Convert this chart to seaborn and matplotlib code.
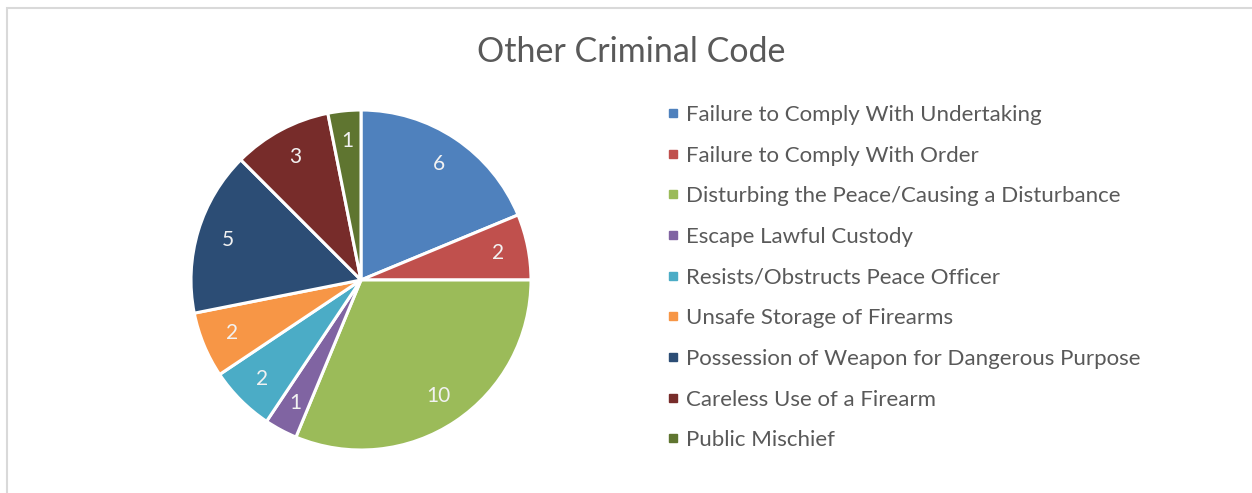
import matplotlib
matplotlib.use("Agg")
import matplotlib.pyplot as plt
from matplotlib.lines import Line2D
from matplotlib.patches import Rectangle
import seaborn as sns

# -----------------------------
# Datos
# -----------------------------
CATEGORIES = [
    "Failure to Comply With Undertaking",
    "Failure to Comply With Order",
    "Disturbing the Peace/Causing a Disturbance",
    "Escape Lawful Custody",
    "Resists/Obstructs Peace Officer",
    "Unsafe Storage of Firearms",
    "Possession of Weapon for Dangerous Purpose",
    "Careless Use of a Firearm",
    "Public Mischief",
]
COUNTS = [6, 2, 10, 1, 2, 2, 5, 3, 1]
COLORS = ["#4F81BD", "#C0504D", "#9BBB59", "#8064A2", "#4BACC6",
          "#F79646", "#2C4D75", "#772C2A", "#5F7530"]
TITLE = "Other Criminal Code"

sns.set_theme(style="white")
plt.rcParams["font.family"] = ["Lato", "DejaVu Sans"]
TEXT = "#595959"

W, H = 1252, 493
fig = plt.figure(figsize=(W / 100, H / 100), dpi=100)

# marco del gráfico (solo se ven borde izquierdo y superior)
fig.patches.append(Rectangle((7 / W, -0.1), 1.2, (H - 8) / H + 0.1,
                             transform=fig.transFigure, fill=False,
                             edgecolor="#d9d9d9", linewidth=1.5))

# -----------------------------
# Pastel
# -----------------------------
cx, cy, r = 361, 280, 170
ax = fig.add_axes([(cx - r) / W, (H - cy - r) / H, 2 * r / W, 2 * r / H])
wedges, texts = ax.pie(COUNTS, colors=sns.color_palette(COLORS), startangle=90,
                       counterclock=False, labels=[str(c) for c in COUNTS],
                       labeldistance=0.82,
                       wedgeprops=dict(edgecolor="white", linewidth=2.2),
                       textprops=dict(color="#f2f2f2", fontsize=15))
for t in texts:
    t.set_ha("center")
    t.set_va("center")
ax.set_xlim(-1.0, 1.0)
ax.set_ylim(-1.0, 1.0)
ax.set_aspect("equal")

fig.text(631 / W, 1 - 52 / H, TITLE, ha="center", va="center",
         fontsize=24.5, color=TEXT)

# -----------------------------
# Leyenda
# -----------------------------
handles = [Line2D([], [], marker="s", linestyle="none", markersize=6,
                  markerfacecolor=c, markeredgecolor=c) for c in COLORS]
leg = fig.legend(handles, CATEGORIES, loc="upper left",
                 bbox_to_anchor=(657 / W, 1 - 96 / H), frameon=False,
                 fontsize=16, labelspacing=0.93, handlelength=0.6,
                 handletextpad=0.3, borderaxespad=0)
for t in leg.get_texts():
    t.set_color(TEXT)

fig.savefig("out.png", dpi=100)
